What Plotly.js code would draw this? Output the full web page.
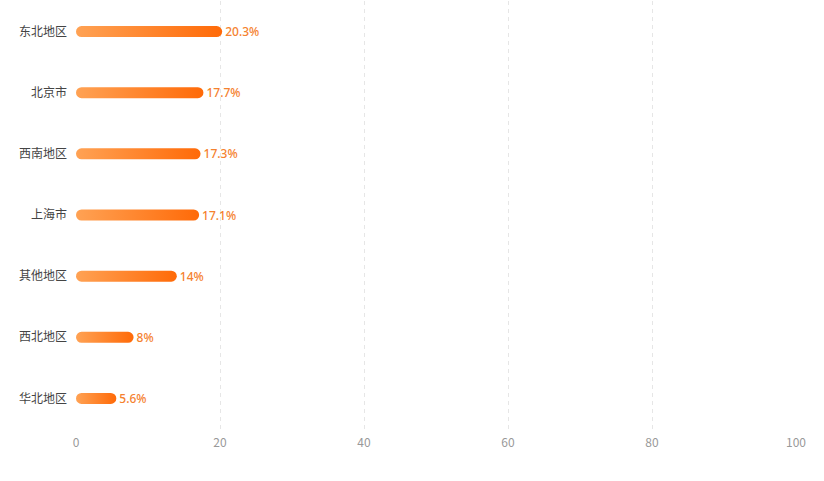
<!DOCTYPE html>
<html><head><meta charset="utf-8">
<script src="https://cdn.plot.ly/plotly-3.0.1.min.js"></script>
<style>html,body{margin:0;padding:0;background:#fff;}#chart{width:824px;height:481px;}</style>
</head><body><div id="chart"></div>
<script>
const regions = ["东北地区","北京市","西南地区","上海市","其他地区","西北地区","华北地区"];
const shares = [20.3, 17.7, 17.3, 17.1, 14, 8, 5.6];
const shareLabels = ["20.3%","17.7%","17.3%","17.1%","14%","8%","5.6%"];
const xTicks = [0, 20, 40, 60, 80, 100];

const font = '"Noto Sans CJK SC", "Noto Sans", sans-serif';
const trace = {
  type: 'bar', orientation: 'h',
  x: shares, y: regions,
  text: shareLabels, textposition: 'outside', cliponaxis: false, constraintext: 'none',
  textfont: {color: '#F5822F', size: 12, family: '"Noto Sans", sans-serif', weight: 500},
  marker: {color: '#FF7A1F', line: {width: 0}},
  width: 0.18,
  hoverinfo: 'none'
};
const layout = {
  width: 824, height: 481,
  margin: {l: 76, r: 28, t: 1, b: 52},
  paper_bgcolor: '#fff', plot_bgcolor: '#fff',
  showlegend: false,
  xaxis: {range: [0, 100], tickvals: xTicks, ticktext: xTicks.map(String),
    showgrid: true, gridcolor: '#e6e6e6', griddash: '4px,4px', gridwidth: 1,
    zeroline: false, showline: false, ticks: '',
    tickfont: {color: '#999999', size: 12, family: font}, ticklabelstandoff: 5, fixedrange: true},
  yaxis: {type: 'category', autorange: 'reversed', showgrid: false, zeroline: false,
    showline: false, ticks: '', ticklabelstandoff: 8,
    tickfont: {color: '#444', size: 12, family: font}, fixedrange: true},
  font: {family: font}
};
function styleBars() {
  const svg = document.querySelector('#chart svg.main-svg');
  if (!svg) return;
  let defs = svg.querySelector('defs');
  if (!document.getElementById('barGrad')) {
    const ns = 'http://www.w3.org/2000/svg';
    const g = document.createElementNS(ns, 'linearGradient');
    g.setAttribute('id', 'barGrad');
    g.setAttribute('x1', '0'); g.setAttribute('y1', '0'); g.setAttribute('x2', '1'); g.setAttribute('y2', '0');
    [['0','#FFA254'],['1','#FF6A08']].forEach(([o,c]) => {
      const s = document.createElementNS(ns, 'stop');
      s.setAttribute('offset', o); s.setAttribute('stop-color', c); g.appendChild(s);
    });
    defs.appendChild(g);
  }
  document.querySelectorAll('#chart .bars .point path').forEach(p => {
    const b = p.getBBox();
    const r = b.height / 2;
    const x0 = b.x, x1 = b.x + b.width, y0 = b.y, y1 = b.y + b.height;
    p.setAttribute('d', `M${x0+r},${y0}H${x1-r}A${r},${r} 0 0 1 ${x1-r},${y1}H${x0+r}A${r},${r} 0 0 1 ${x0+r},${y0}Z`);
    p.style.fill = 'url(#barGrad)';
  });
}
Plotly.newPlot('chart', [trace], layout, {displayModeBar: false, staticPlot: true}).then(styleBars);
</script></body></html>
